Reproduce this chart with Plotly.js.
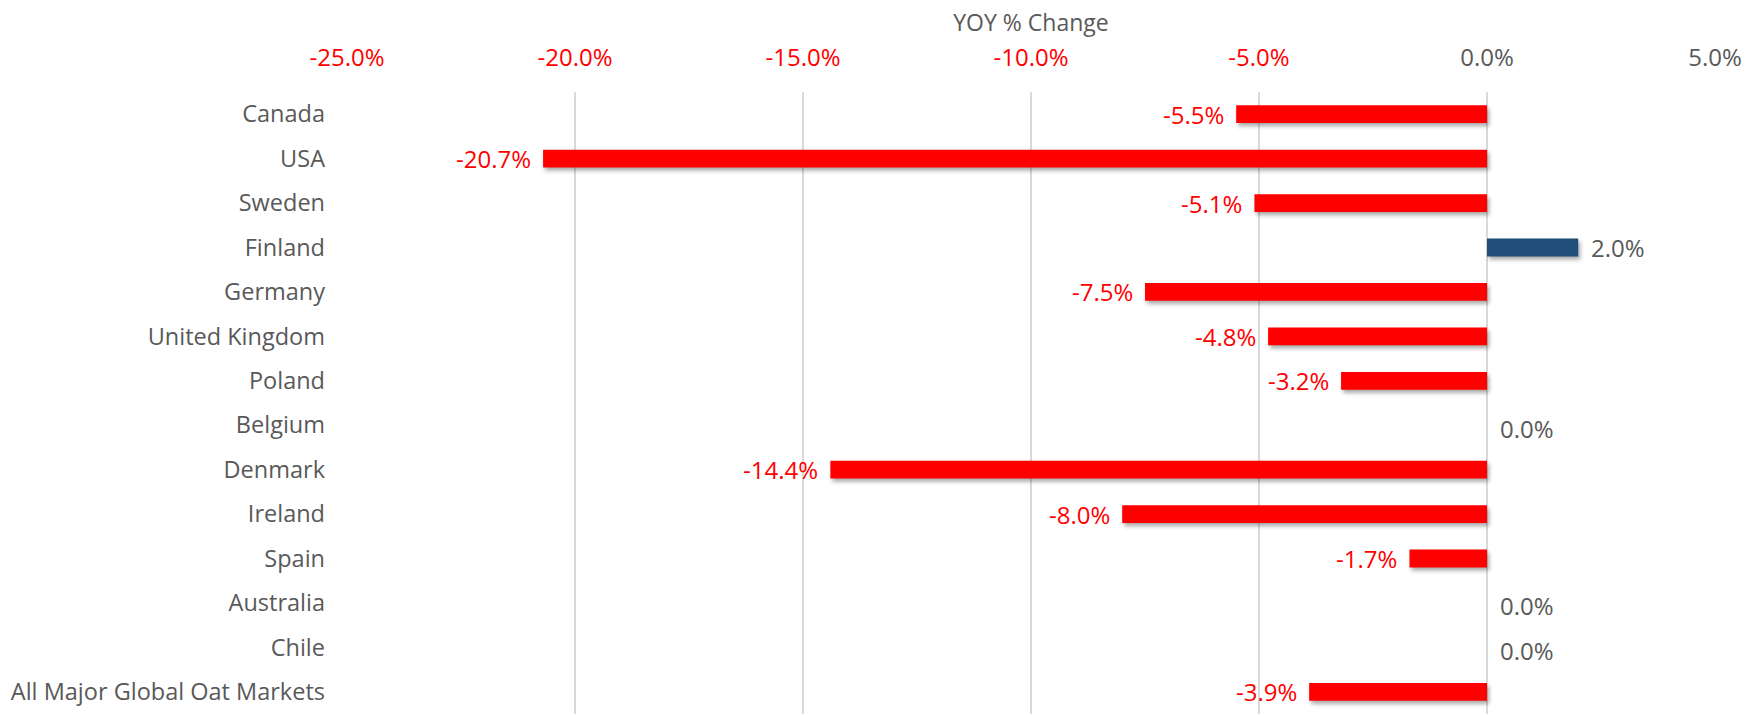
<!DOCTYPE html>
<html>
<head>
<meta charset="utf-8">
<script src="https://cdn.plot.ly/plotly-3.0.1.min.js"></script>
<style>
  html, body { margin: 0; padding: 0; background: #fff; }
  #chart { width: 1756px; height: 715px; }
  .barlayer .point path { filter: drop-shadow(2px 3px 2px rgba(0,0,0,0.35)); }
</style>
</head>
<body>
<div id="chart"></div>
<script>
const categories = ["Canada", "USA", "Sweden", "Finland", "Germany", "United Kingdom", "Poland",
  "Belgium", "Denmark", "Ireland", "Spain", "Australia", "Chile", "All Major Global Oat Markets"];
const yoyChange = [-0.055, -0.207, -0.051, 0.020, -0.075, -0.048, -0.032,
  0.000, -0.144, -0.080, -0.017, 0.000, 0.000, -0.039];
const tickValues = [-0.25, -0.20, -0.15, -0.10, -0.05, 0.00, 0.05];
const tickLabels = ["-25.0%", "-20.0%", "-15.0%", "-10.0%", "-5.0%", "0.0%", "5.0%"];

const RED = "#FF0000", NAVY = "#1F4E79", GREY = "#595959";
const FONT = "Open Sans, Noto Sans, sans-serif";

const barColors = yoyChange.map(v => v < 0 ? RED : NAVY);
const labelColors = yoyChange.map(v => v < 0 ? RED : GREY);
const tickText = tickLabels.map((t, i) =>
  '<span style="fill:' + (tickValues[i] < 0 ? RED : GREY) + '">' + t + '</span>');

const trace = {
  type: "bar",
  orientation: "h",
  y: categories,
  x: yoyChange,
  width: 0.4,
  marker: { color: barColors, line: { width: 0 } },
  hoverinfo: "skip"
};

const annotations = yoyChange.map((v, i) => ({
  x: v, y: categories[i], xref: "x", yref: "y",
  text: (v * 100).toFixed(1) + "%",
  showarrow: false,
  xanchor: v < 0 ? "right" : "left",
  xshift: v < 0 ? -10 : 11,
  yshift: v === 0 ? -3 : 0,
  font: { family: FONT, size: 24, color: labelColors[i] }
}));

const layout = {
  width: 1756, height: 715,
  margin: { l: 347, r: 41, t: 92, b: 1 },
  paper_bgcolor: "#fff", plot_bgcolor: "#fff",
  showlegend: false,
  font: { family: FONT, size: 24, color: GREY },
  xaxis: {
    side: "top",
    range: [-0.25, 0.05],
    tickvals: tickValues,
    ticktext: tickText,
    tickfont: { family: FONT, size: 24, color: GREY },
    showgrid: true, gridcolor: "#D9D9D9", gridwidth: 1.5,
    zeroline: true, zerolinecolor: "#D9D9D9", zerolinewidth: 1.5,
    showline: false, ticks: "",
    ticklabelstandoff: 20,
    title: { text: "YOY % Change", font: { family: FONT, size: 23, color: GREY }, standoff: 2 },
    fixedrange: true
  },
  yaxis: {
    autorange: "reversed",
    type: "category",
    showgrid: false, zeroline: false, showline: false, ticks: "",
    tickfont: { family: FONT, size: 23.5, color: GREY },
    ticklabelstandoff: 21,
    fixedrange: true
  },
  annotations: annotations
};

Plotly.newPlot("chart", [trace], layout, { displayModeBar: false, staticPlot: true });
</script>
</body>
</html>
